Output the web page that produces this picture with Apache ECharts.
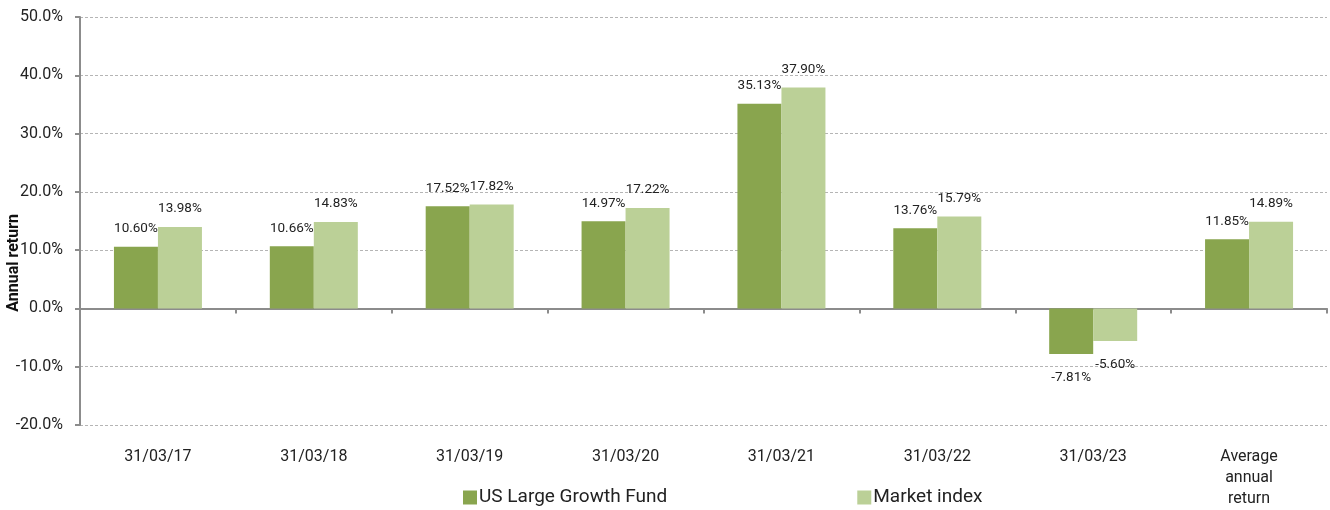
<!DOCTYPE html>
<html>
<head>
<meta charset="utf-8">
<script src="https://cdn.jsdelivr.net/npm/echarts@6/dist/echarts.min.js"></script>
<style>html,body{margin:0;padding:0;background:#fff}#c{width:1330px;height:510px}</style>
</head>
<body>
<div id="c"></div>
<script>
const categories = ['31/03/17','31/03/18','31/03/19','31/03/20','31/03/21','31/03/22','31/03/23','Average\nannual\nreturn'];
const fundValues = [10.60, 10.66, 17.52, 14.97, 35.13, 13.76, -7.81, 11.85];
const indexValues = [13.98, 14.83, 17.82, 17.22, 37.90, 15.79, -5.60, 14.89];
const seriesNames = ['US Large Growth Fund', 'Market index'];
const yTicks = { min: -20, max: 50, interval: 10 };

const font = 'Roboto, "Noto Sans", sans-serif';
const chart = echarts.init(document.getElementById('c'), null, {renderer: 'canvas'});
const labelCfg = {
  show: true,
  fontFamily: font, fontSize: 13.5, color: '#222',
  formatter: p => p.value.toFixed(2) + '%'
};
function mkSeries(name, data, color) {
  return {
    name, type: 'bar', data: data.map(v => ({
      value: v,
      label: v < 0 ? { position: 'bottom', distance: 17 } : { position: 'top', distance: 11 }
    })),
    xAxisIndex: 0,
    barWidth: 44, barGap: '0%',
    itemStyle: { color },
    label: labelCfg,
    emphasis: { disabled: true },
    animation: false
  };
}
chart.setOption({
  animation: false,
  textStyle: { fontFamily: font },
  grid: { left: 80, right: 3, top: 17, bottom: 85, containLabel: false },
  legend: {
    left: 463, top: 488, padding: 0,
    itemWidth: 14, itemHeight: 14, itemGap: 190,
    icon: 'rect',
    textStyle: { fontFamily: font, fontSize: 19, color: '#222', padding: [0,0,0,-3] },
    data: seriesNames
  },
  graphic: [{
    type: 'text', left: 6, top: 214, rotation: Math.PI/2,
    style: { text: 'Annual return', fontFamily: font, fontSize: 16, fontWeight: 'bold', fill: '#111' }
  }],
  xAxis: [{
    type: 'category', data: categories,
    axisLine: { onZero: true, lineStyle: { color: '#8c8c8c', width: 2 } },
    axisTick: { show: true, length: 5, lineStyle: { color: '#8c8c8c', width: 2 } },
    axisLabel: { show: false },
    splitLine: { show: false }
  }, {
    type: 'category', data: categories, position: 'bottom',
    gridIndex: 0,
    axisLine: { show: false }, axisTick: { show: false },
    axisLabel: { show: true, margin: 21, fontFamily: font, fontSize: 16, color: '#222', lineHeight: 21 }
  }],
  yAxis: {
    type: 'value', min: yTicks.min, max: yTicks.max, interval: yTicks.interval,
    axisLine: { show: true, lineStyle: { color: '#8c8c8c', width: 2 } },
    axisTick: { show: true, length: 5, lineStyle: { color: '#8c8c8c', width: 2 } },
    axisLabel: { margin: 17, fontFamily: font, fontSize: 16, color: '#222', formatter: v => v.toFixed(1) + '%' },
    splitLine: { show: true, lineStyle: { color: '#b5b5b5', type: [3, 2], width: 1 } }
  },
  series: [
    mkSeries(seriesNames[0], fundValues, '#89a54e'),
    mkSeries(seriesNames[1], indexValues, '#bbd097')
  ]
});
</script>
</body>
</html>
